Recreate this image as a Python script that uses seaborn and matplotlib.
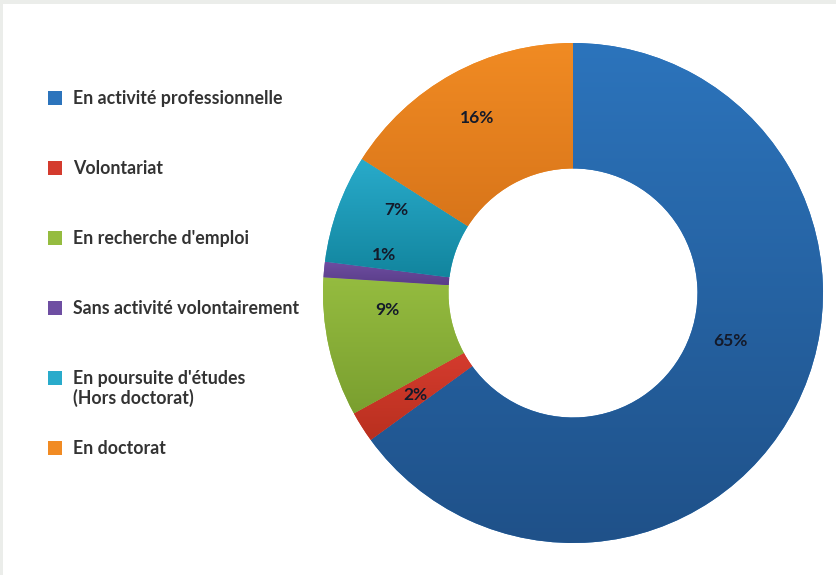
import numpy as np
import matplotlib
matplotlib.use("Agg")
import matplotlib.pyplot as plt
import seaborn as sns
from matplotlib.colors import to_rgb
from matplotlib.patches import Rectangle

# ---- data -------------------------------------------------------------
categories = [
    "En activité professionnelle",
    "Volontariat",
    "En recherche d'emploi",
    "Sans activité volontairement",
    "En poursuite d'études\n(Hors doctorat)",
    "En doctorat",
]
shares = [65, 2, 9, 1, 7, 16]
value_labels = ["65%", "2%", "9%", "1%", "7%", "16%"]

# ---- style ------------------------------------------------------------
colors_top = ["#2c74bc", "#d43b2e", "#95bc40", "#6e4ea2", "#29abcb", "#f18b23"]
colors_bottom = ["#1f5189", "#b9301f", "#7a9f2f", "#5a3d88", "#12859e", "#d8751a"]
label_nudge_deg = [10, 0.5, -7.5, -6, -5.5, 0]
label_radius = [0.66, 0.75, 0.745, 0.77, 0.78, 0.8]

sns.set_theme(style="white")
plt.rcParams["font.family"] = ["Lato", "DejaVu Sans"]

W, H, DPI = 836, 575, 100
fig = plt.figure(figsize=(W / DPI, H / DPI), dpi=DPI)
fig.patch.set_facecolor("white")

# thin grey frame along the top and left edges
frame = "#ebedea"
fig.patches.append(Rectangle((0, 1 - 4 / H), 1, 4 / H, transform=fig.transFigure,
                             facecolor=frame, edgecolor="none", zorder=0))
fig.patches.append(Rectangle((0, 0), 3 / W, 1, transform=fig.transFigure,
                             facecolor=frame, edgecolor="none", zorder=0))

# ---- donut ------------------------------------------------------------
cx, cy, R = 573, 293, 250
ax = fig.add_axes([(cx - R) / W, (H - cy - R) / H, 2 * R / W, 2 * R / H])
wedges, _ = ax.pie(
    shares,
    colors=colors_top,
    startangle=90,
    counterclock=False,
    radius=1.0,
    wedgeprops=dict(width=0.502, linewidth=0),
)
ax.set_xlim(-1, 1)
ax.set_ylim(-1, 1)

# vertical light-to-dark shading inside each slice
for w, ctop, cbot in zip(wedges, colors_top, colors_bottom):
    ext = w.get_path().get_extents()
    t = np.linspace(0, 1, 256)[:, None]
    grad = (1 - t) * np.array(to_rgb(cbot)) + t * np.array(to_rgb(ctop))
    img = ax.imshow(grad[:, None, :], extent=(ext.x0, ext.x1, ext.y0, ext.y1),
                    origin="lower", aspect="auto", interpolation="bilinear",
                    zorder=w.get_zorder() + 0.1)
    img.set_clip_path(w)

for w, txt, nud, rad in zip(wedges, value_labels, label_nudge_deg, label_radius):
    mid = np.deg2rad((w.theta1 + w.theta2) / 2 + nud)
    ax.text(rad * np.cos(mid), rad * np.sin(mid), txt, ha="center", va="center",
            fontsize=12.5, fontweight="bold", color="#141a2a", zorder=5)

ax.set_xlim(-1, 1)
ax.set_ylim(-1, 1)
ax.set_aspect("equal")
ax.axis("off")

# ---- legend -----------------------------------------------------------
lg = fig.add_axes([0, 0, 1, 1])
lg.set_xlim(0, W)
lg.set_ylim(H, 0)
lg.axis("off")
lg.patch.set_visible(False)

y0, step, box, line_gap = 98, 70, 14, 20
for i, (name, c) in enumerate(zip(categories, colors_top)):
    y = y0 + step * i
    nlines = name.count("\n") + 1
    lg.add_patch(Rectangle((48, y - box / 2), box, box, facecolor=c, edgecolor="none"))
    lg.text(73, y + 6 + line_gap * (nlines - 1), name, ha="left", va="baseline",
            fontsize=12.8, fontweight="bold", color="#333333", linespacing=1.12)

fig.savefig("out.png", dpi=DPI, facecolor="white")
